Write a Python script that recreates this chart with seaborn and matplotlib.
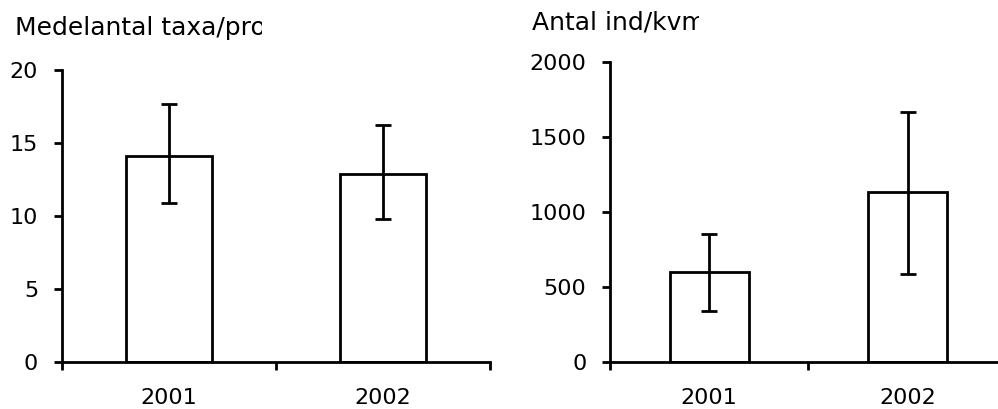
import matplotlib
matplotlib.use("Agg")
import matplotlib.pyplot as plt
from matplotlib.patches import Rectangle
import seaborn as sns
import pandas as pd

# Survey results per year
years = ["2001", "2002"]

taxa_mean = [14.1, 12.9]
taxa_low = [10.9, 9.8]
taxa_high = [17.7, 16.2]

dens_mean = [600, 1130]
dens_low = [336, 585]
dens_high = [851, 1665]

sns.set_theme(style="white")
plt.rcParams["font.family"] = ["DejaVu Sans"]

W, H = 998, 409
fig = plt.figure(figsize=(W / 100, H / 100), dpi=100)

def px_axes(x0, x1, ytop, ybot):
    return fig.add_axes([x0 / W, 1 - ybot / H, (x1 - x0) / W, (ybot - ytop) / H])

ax1 = px_axes(61.7, 490, 70, 361.7)
ax2 = px_axes(610, 1006.7, 61.7, 361.7)

FS = 16
TITLE_FS = 18
LW = 2.0

def panel(ax, mean, low, high, ymax, step):
    df = pd.DataFrame({"year": years, "value": mean})
    sns.barplot(data=df, x="year", y="value", color="white", edgecolor="black",
                linewidth=LW, width=0.4, ax=ax, saturation=1, zorder=2)
    yerr = [[m - l for m, l in zip(mean, low)], [h - m for m, h in zip(mean, high)]]
    ax.errorbar(x=range(len(years)), y=mean, yerr=yerr, fmt="none", ecolor="black",
                elinewidth=LW, capsize=5.5, capthick=LW, zorder=3)
    ax.set_xlim(-0.5, 1.5)
    ax.set_ylim(0, ymax)
    ax.set_yticks(range(0, ymax + 1, step))
    ax.set_xticks([-0.5, 0.5, 1.5])
    ax.set_xticklabels([])
    ax.set_xticks([0, 1], minor=True)
    ax.set_xticklabels(years, minor=True)
    ax.set_xlabel("")
    ax.set_ylabel("")
    for s in ["top", "right"]:
        ax.spines[s].set_visible(False)
    for s in ["left", "bottom"]:
        ax.spines[s].set_color("black")
        ax.spines[s].set_linewidth(LW)
    ax.tick_params(axis="y", which="major", direction="out", length=6, width=LW,
                   color="black", left=True, labelsize=FS, labelcolor="black", pad=11)
    ax.tick_params(axis="x", which="major", direction="out", length=6, width=LW,
                   color="black", bottom=True)
    ax.tick_params(axis="x", which="minor", length=0, labelsize=FS,
                   labelcolor="black", pad=19)
    ax.set_facecolor("white")

panel(ax1, taxa_mean, taxa_low, taxa_high, 20, 5)
panel(ax2, dens_mean, dens_low, dens_high, 2000, 500)

# Axis titles; the text box is narrower than the label, so the tail is hidden
def title(x, y, text, clip_right, width):
    fig.text(x / W, 1 - y / H, text, fontsize=TITLE_FS, color="black",
             ha="left", va="baseline", zorder=3)
    fig.patches.append(Rectangle((clip_right / W, 1 - (y + 10) / H), width / W, 40 / H,
                                 transform=fig.transFigure, facecolor="white",
                                 edgecolor="none", zorder=4))

title(15, 35, "Medelantal taxa/prov", 262, 60)
title(532, 30, "Antal ind/kvm", 699, 40)

fig.savefig("out.png", dpi=100, facecolor="white")
